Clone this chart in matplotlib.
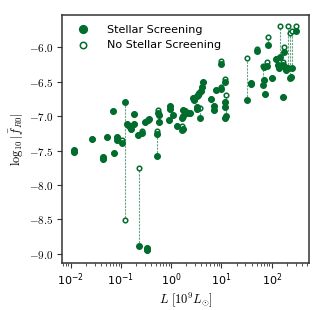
import numpy as np
import matplotlib
matplotlib.use("Agg")
from matplotlib import pyplot as plt
from matplotlib.ticker import FuncFormatter, MultipleLocator

# luminosity [1e9 Lsun], log10|f_R0| with and without stellar screening
lum = [0.0117, 0.0118, 0.0269, 0.0437, 0.0440, 0.0525, 0.0692, 0.0724, 0.0832, 0.0835,
       0.105, 0.119, 0.132, 0.148, 0.158, 0.186, 0.186, 0.229, 0.224, 0.263,
       0.302, 0.324, 0.330, 0.339, 0.363, 0.525, 0.550, 0.560, 0.530, 0.570,
       0.955, 0.955, 1.10, 0.912, 1.29, 1.66, 1.68, 1.74, 1.86, 1.70,
       1.62, 2.19, 2.34, 2.75, 2.80, 2.88, 3.24, 3.39, 3.63, 3.89,
       4.07, 4.37, 3.30, 3.30, 3.72, 6.31, 7.08, 7.08, 7.94, 9.77,
       10.0, 12.0, 12.3, 11.7, 11.7, 12.0, 31.6, 38.0, 38.5, 51.3,
       66.1, 70.8, 74.1, 79.4, 70.0, 85.1, 100.0, 123.0, 135.0, 141.0,
       148.0, 170.0, 178.0, 182.0, 191.0, 170.0, 214.0, 229.0, 240.0, 251.0,
       302.0]
f_screen = [-7.49, -7.52, -7.33, -7.60, -7.62, -7.30, -6.92, -7.54, -7.30, -7.34,
            -7.39, -6.80, -7.12, -7.14, -7.19, -6.97, -7.12, -8.89, -7.27, -7.24,
            -7.08, -8.92, -8.94, -7.05, -7.04, -7.58, -6.96, -7.08, -7.26, -6.98,
            -6.85, -6.90, -6.98, -7.06, -7.14, -7.20, -7.18, -6.91, -6.93, -7.00,
            -7.03, -6.96, -6.95, -6.73, -6.75, -6.77, -6.71, -6.69, -6.67, -6.63,
            -6.58, -6.51, -6.86, -6.89, -7.03, -6.75, -6.85, -6.91, -6.62, -6.61,
            -6.25, -6.51, -7.00, -6.80, -6.86, -7.02, -6.76, -6.52, -6.54, -6.05,
            -6.55, -6.47, -6.68, -6.27, -6.28, -5.96, -6.44, -6.17, -6.26, -6.30,
            -6.14, -6.26, -6.07, -6.28, -6.33, -6.72, -6.30, -6.45, -6.43, -6.30,
            -5.77]
f_noscreen = [-7.49, -7.52, -7.33, -7.60, -7.62, -7.30, -6.92, -7.54, -7.30, -7.34,
              -7.35, -8.51, -7.12, -7.14, -7.19, -6.97, -7.12, -7.75, -7.27, -7.21,
              -7.08, -8.92, -8.94, -7.05, -7.04, -7.22, -6.91, -7.08, -7.26, -6.98,
              -6.85, -6.90, -6.98, -7.06, -7.14, -7.15, -7.18, -6.91, -6.93, -7.00,
              -7.03, -6.96, -6.95, -6.73, -6.75, -6.77, -6.71, -6.69, -6.67, -6.63,
              -6.58, -6.51, -6.86, -6.89, -6.885, -6.75, -6.85, -6.91, -6.62, -6.57,
              -6.20, -6.46, -6.69, -6.80, -6.86, -7.02, -6.15, -6.52, -6.54, -6.02,
              -6.27, -6.47, -6.68, -6.22, -6.28, -5.85, -6.44, -6.17, -6.26, -6.30,
              -5.69, -6.21, -5.99, -6.28, -6.33, -6.72, -5.69, -5.80, -6.43, -5.77,
              -5.69]

green = "#006d2c"

plt.rcParams["mathtext.fontset"] = "cm"
plt.rcParams["font.size"] = 8

fig = plt.figure(figsize=(3.24, 3.10), dpi=100)
ax = fig.add_axes([0.191, 0.152, 0.763, 0.80])

ax.vlines(lum, f_screen, f_noscreen, colors=green, linestyles=(0, (2, 1)),
          linewidth=0.8, alpha=0.6, zorder=1)
ax.plot(lum, f_noscreen, "o", ls="none", ms=3.3, mfc="white", mec=green,
        mew=1.1, zorder=2, label="No Stellar Screening")
ax.plot(lum, f_screen, "o", ls="none", ms=4.0, color=green, zorder=3,
        label="Stellar Screening")

ax.set_xscale("log")
ax.set_xlim(10 ** -2.173, 10 ** 2.742)
ax.set_ylim(-9.13, -5.53)
ax.yaxis.set_major_locator(MultipleLocator(0.5))
ax.yaxis.set_major_formatter(FuncFormatter(lambda v, p: r"$%.1f$" % v))

ax.set_xlabel(r"$L\ [10^9 L_{\odot}]$", fontsize=9, labelpad=2)
ax.set_ylabel(r"$\log_{10}|\bar{f}_{R0}|$", fontsize=9, labelpad=3)

for s in ax.spines.values():
    s.set_linewidth(1.1)
    s.set_color("#333333")
ax.tick_params(which="major", length=3.5, pad=2.5, labelsize=8, color="#333333")
ax.tick_params(which="minor", length=2, color="#333333")

h, l = ax.get_legend_handles_labels()
ax.legend(h[::-1], l[::-1], loc="upper left", frameon=False, fontsize=8,
          handletextpad=1.2, markerscale=1.4, borderaxespad=0.5)

fig.savefig("out.png", dpi=100)
